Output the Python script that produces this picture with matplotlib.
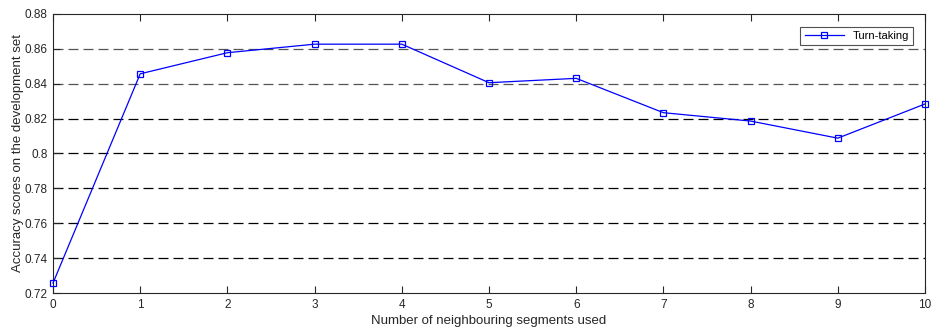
import matplotlib
matplotlib.use('Agg')
import matplotlib.pyplot as plt

plt.rcParams['font.family'] = ['Liberation Sans', 'DejaVu Sans']

# accuracy vs number of neighbouring segments
segments = [0, 1, 2, 3, 4, 5, 6, 7, 8, 9, 10]
accuracy = [0.7257, 0.8457, 0.8578, 0.8627, 0.8627, 0.8406, 0.8431, 0.8234, 0.8186, 0.8088, 0.8284]
yticks = [0.72, 0.74, 0.76, 0.78, 0.8, 0.82, 0.84, 0.86, 0.88]
ytick_labels = ['0.72', '0.74', '0.76', '0.78', '0.8', '0.82', '0.84', '0.86', '0.88']

fig = plt.figure(figsize=(9.33, 3.29), dpi=100)
ax = fig.add_axes([53 / 933, 1 - 293 / 329, 872 / 933, 279 / 329])

# dashed horizontal guides
for yv in yticks[1:-1]:
    c = '#555555' if yv >= 0.84 else 'black'
    ax.axhline(yv, color=c, linestyle=(0, (8, 4)), linewidth=0.9, zorder=1)

ax.plot(segments, accuracy, color='#0000ff', linewidth=0.9, marker='s',
        markersize=5, markerfacecolor='none', markeredgecolor='#0000ff',
        markeredgewidth=0.9, label='Turn-taking', zorder=3, clip_on=False)

ax.set_xlim(0, 10)
ax.set_ylim(0.72, 0.88)
ax.set_xticks(segments)
ax.set_yticks(yticks)
ax.set_yticklabels(ytick_labels)
ax.tick_params(direction='in', top=True, right=False, length=5, width=0.8,
               labelsize=8.5, colors='#262626', pad=4)
for s in ax.spines.values():
    s.set_color('#262626')
    s.set_linewidth(0.8)

ax.set_xlabel('Number of neighbouring segments used', fontsize=9.5, color='#262626', labelpad=3)
ax.set_ylabel('Accuracy scores on the development set', fontsize=9.5, color='#262626', labelpad=0.5)

leg = ax.legend(loc='upper right', fontsize=8, frameon=True, fancybox=False,
                edgecolor='#262626', borderpad=0.4, handlelength=3.5,
                bbox_to_anchor=(0.993, 0.975))
leg.get_frame().set_linewidth(0.8)

fig.savefig('out.png', dpi=100)
